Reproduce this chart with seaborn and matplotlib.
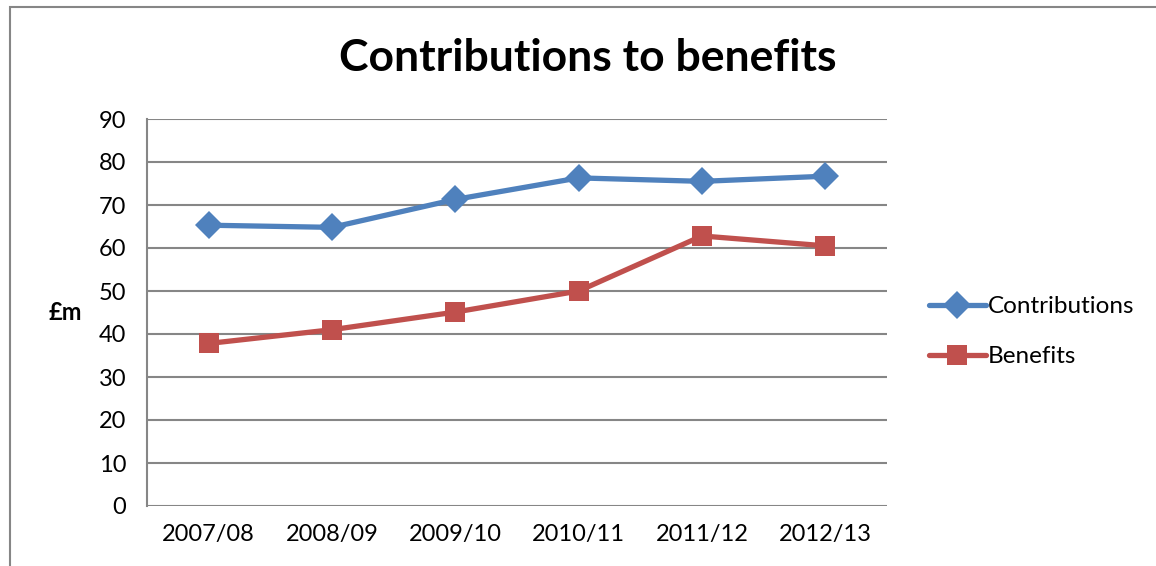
import matplotlib
matplotlib.use("Agg")
import matplotlib.pyplot as plt
import matplotlib.patches as patches
import pandas as pd
import seaborn as sns

years = ["2007/08", "2008/09", "2009/10", "2010/11", "2011/12", "2012/13"]
contributions = [65.3, 64.8, 71.3, 76.3, 75.5, 76.7]
benefits = [37.8, 41.0, 45.1, 50.0, 62.8, 60.5]
series_names = ["Contributions", "Benefits"]
y_ticks = [0, 10, 20, 30, 40, 50, 60, 70, 80, 90]

df = pd.DataFrame({
    "year": years * 2,
    "value": contributions + benefits,
    "series": [series_names[0]] * len(years) + [series_names[1]] * len(years),
})

sns.set_style("white")
plt.rcParams["font.family"] = ["Lato", "DejaVu Sans"]
plt.rcParams["text.color"] = "black"

fig = plt.figure(figsize=(11.56, 5.66), dpi=100)
ax = fig.add_axes([147 / 1156, 1 - 506 / 566, (887 - 147) / 1156, (506 - 119) / 566])

sns.lineplot(data=df, x="year", y="value", hue="series", style="series",
             palette={"Contributions": "#4F81BD", "Benefits": "#C0504D"},
             markers={"Contributions": "D", "Benefits": "s"}, dashes=False,
             linewidth=3.8, markersize=14, markeredgewidth=0, sort=False, ax=ax)

ax.set_xlim(-0.5, len(years) - 0.5)
ax.set_ylim(0, 90)
ax.set_yticks(y_ticks)
ax.yaxis.grid(True, color="#868686", linewidth=1.5)
ax.set_axisbelow(True)
for s in ["top", "right", "bottom"]:
    ax.spines[s].set_visible(False)
ax.spines["left"].set_color("#868686")
ax.spines["left"].set_linewidth(1.5)
ax.tick_params(axis="both", length=0, labelsize=17, colors="black")
ax.tick_params(axis="x", pad=13)
ax.tick_params(axis="y", pad=15)
ax.set_xlabel("")
ax.set_ylabel("£m", rotation=0, fontsize=17, fontweight="bold", labelpad=24,
              va="center", color="black")

fig.suptitle("Contributions to benefits", x=588 / 1156, y=1 - 58 / 566, va="center",
             fontsize=32, fontweight="bold", color="black")

handles, labels = ax.get_legend_handles_labels()
leg = ax.legend(handles, labels, loc="center left", bbox_to_anchor=(1.043, 0.45),
                frameon=False, fontsize=17.5, handlelength=2.35, handletextpad=0.1,
                labelspacing=1.2, borderaxespad=0, markerscale=1.0)
for t in leg.get_texts():
    t.set_color("black")

fig.add_artist(patches.Rectangle((10 / 1156, -0.1), 1.2, 1.1 - 7 / 566,
                                 transform=fig.transFigure, fill=False,
                                 edgecolor="#868686", linewidth=1.5))

fig.savefig("out.png", dpi=100)
